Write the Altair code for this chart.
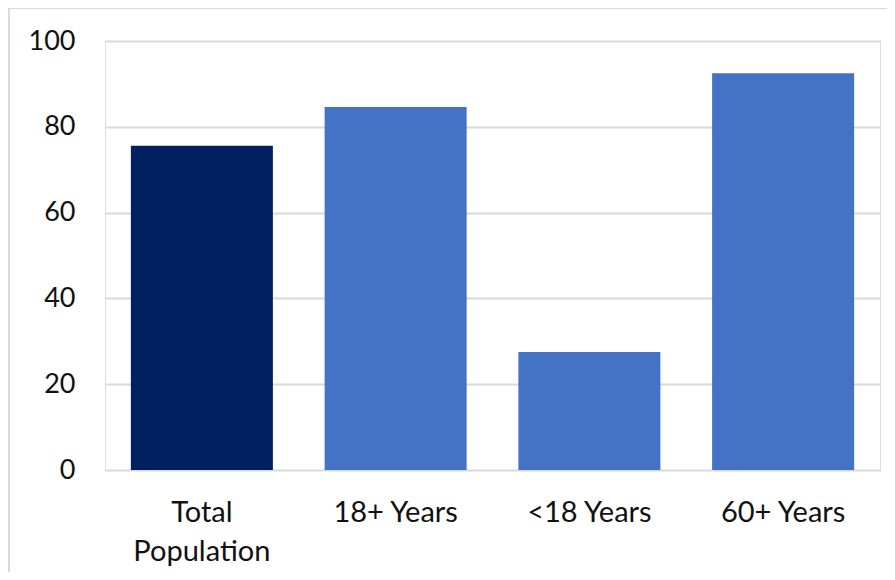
import altair as alt
import pandas as pd

categories = ["Total Population", "18+ Years", "<18 Years", "60+ Years"]
values = [75.6, 84.6, 27.5, 92.5]
bar_colors = ["#002060", "#4472C4", "#4472C4", "#4472C4"]

df = pd.DataFrame({"category": categories, "value": values, "color": bar_colors})

W, H = 775, 429
LEFT, TOP = 97, 33

bars = alt.Chart(df).mark_bar(stroke=None).encode(
    x=alt.X(
        "category:N",
        sort=categories,
        title=None,
        scale=alt.Scale(paddingInner=0.267, paddingOuter=0.1335),
        axis=alt.Axis(
            domain=False,
            ticks=False,
            grid=False,
            labelAngle=0,
            labelFont="Lato",
            labelFontSize=29,
            labelColor="#111111",
            labelPadding=28,
            labelLineHeight=39,
            labelExpr="datum.label == 'Total Population' ? ['Total', 'Population'] : datum.label",
        ),
    ),
    y=alt.Y(
        "value:Q",
        title=None,
        scale=alt.Scale(domain=[0, 100], nice=False),
        axis=alt.Axis(
            values=[0, 20, 40, 60, 80, 100],
            domain=False,
            ticks=False,
            grid=True,
            gridColor="#D9D9D9",
            gridWidth=2,
            labelFont="Lato",
            labelFontSize=27,
            labelColor="#111111",
            labelPadding=30,
        ),
    ),
    color=alt.Color("color:N", scale=None, legend=None),
)

edge_src = pd.DataFrame({"k": [0]})
left_edge = alt.Chart(edge_src).mark_rule(color="#D9D9D9", strokeWidth=2).encode(
    x=alt.value(-96),
    y=alt.value(-33),
    y2=alt.value(600),
)
top_edge = alt.Chart(edge_src).mark_rule(color="#D9D9D9", strokeWidth=2).encode(
    x=alt.value(-97),
    x2=alt.value(900),
    y=alt.value(-33),
)

chart = (
    alt.layer(left_edge, top_edge, bars)
    .properties(
        width=W,
        height=H,
        autosize=alt.AutoSizeParams(type="none"),
        padding={"left": LEFT, "top": TOP, "right": 7, "bottom": 102},
    )
    .configure_view(stroke=None)
    .configure(background="white")
)

chart.save("out.html", embed_options={"renderer": "svg", "actions": False})
